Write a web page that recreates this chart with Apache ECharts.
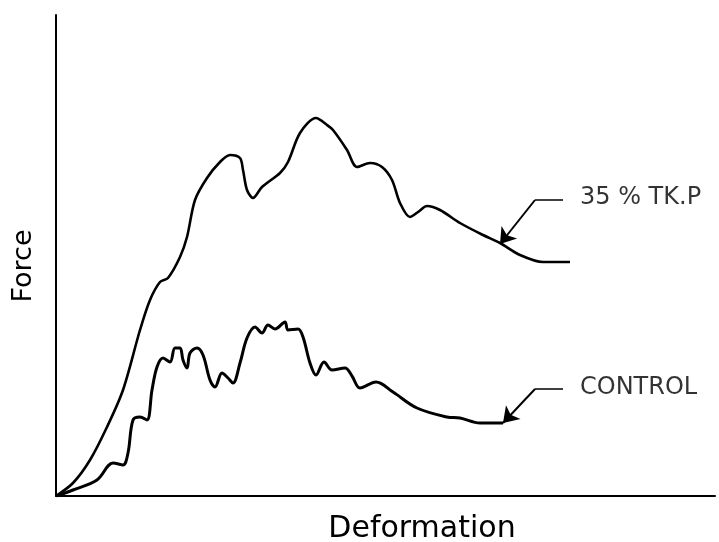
<!DOCTYPE html>
<html>
<head>
<meta charset="utf-8">
<script src="https://cdn.jsdelivr.net/npm/echarts@6/dist/echarts.min.js"></script>
<style>
html,body{margin:0;padding:0;background:#fff;}
#chart{width:719px;height:542px;}
</style>
</head>
<body>
<div id="chart"></div>
<script>
// Deformation (x) values, arbitrary units
const tkpX = [0,17,34,51,67,84,94,104,112,124,131,139,151,164,174,184,187,191,197,206,224,232,244,260,271,277,291,301,314,326,336,344,354,362,371,384,404,427,444,464,487,514];
// Force (y) values for the 35 % TK.P curve
const tkpY = [0,13,36,69,106,166,196,214,218,239,259,296,318,334,341,338,326,306,298,309,323,334,363,378,371,366,346,329,333,329,316,293,279,284,290,286,273,261,253,241,234,234];

const ctlX = [0,17,41,57,67,72,77,84,91,96,101,107,114,119,124,127,131,134,141,147,154,159,166,172,177,184,191,199,206,212,219,229,232,242,247,254,260,268,276,289,296,304,320,337,361,391,404,424,447];
const ctlY = [0,6,16,33,31,43,76,79,76,106,129,138,134,148,148,136,128,143,148,141,116,109,123,118,113,133,158,169,163,171,167,174,166,167,159,133,121,134,126,128,120,108,114,104,88,79,78,73,73];

// Annotation leaders: label end -> elbow, elbow -> arrow tip
const leaderFlat = [[[507,296],[479,296]], [[507,107],[479,107]]];
const leaderArrow = [[[479,296],[444,252]], [[479,107],[447,73]]];
const labels = ["35 % TK.P", "CONTROL"];
const labelPos = [[524,298],[524,108]];

const xMax = 659, yMax = 481;

function pairs(xs, ys){ return xs.map((x,i)=>[x, ys[i]]); }

const chart = echarts.init(document.getElementById('chart'), null, {renderer:'canvas'});

chart.setOption({
  animation:false,
  backgroundColor:'#fff',
  grid:{left:56, right:4, top:15, bottom:46},
  xAxis:{type:'value', min:0, max:xMax,
    axisLine:{show:true, onZero:false, lineStyle:{color:'#000', width:2}},
    axisTick:{show:false}, axisLabel:{show:false}, splitLine:{show:false}},
  yAxis:{type:'value', min:0, max:yMax,
    axisLine:{show:true, onZero:false, lineStyle:{color:'#000', width:2}},
    axisTick:{show:false}, axisLabel:{show:false}, splitLine:{show:false}},
  graphic:[
    {type:'text', x:422, y:529, style:{text:'Deformation', font:'30px "DejaVu Sans"', fill:'#000', align:'center', verticalAlign:'middle'}},
    {type:'text', rotation:Math.PI/2, x:24, y:266, style:{text:'Force', font:'27px "DejaVu Sans"', fill:'#000', align:'center', verticalAlign:'middle'}}
  ],
  series:[
    {name:labels[0], type:'line', data:pairs(tkpX,tkpY), smooth:0.3, showSymbol:false,
      lineStyle:{color:'#000', width:2.6}},
    {name:labels[1], type:'line', data:pairs(ctlX,ctlY), smooth:0.35, showSymbol:false,
      lineStyle:{color:'#000', width:3}},
    {type:'lines', coordinateSystem:'cartesian2d',
      lineStyle:{color:'#000', width:1.5, opacity:1},
      data:leaderFlat.map(c=>({coords:c}))},
    {type:'lines', coordinateSystem:'cartesian2d',
      symbol:['none','arrow'], symbolSize:[6,15],
      lineStyle:{color:'#000', width:2, opacity:1},
      data:leaderArrow.map(c=>({coords:c}))},
    {type:'scatter', symbolSize:0,
      data:labels.map((t,i)=>({value:labelPos[i], name:t})),
      label:{show:true, position:'right', distance:0, formatter:p=>p.name,
        fontFamily:'DejaVu Sans', fontSize:24, color:'#000'}}
  ]
});
</script>
</body>
</html>
